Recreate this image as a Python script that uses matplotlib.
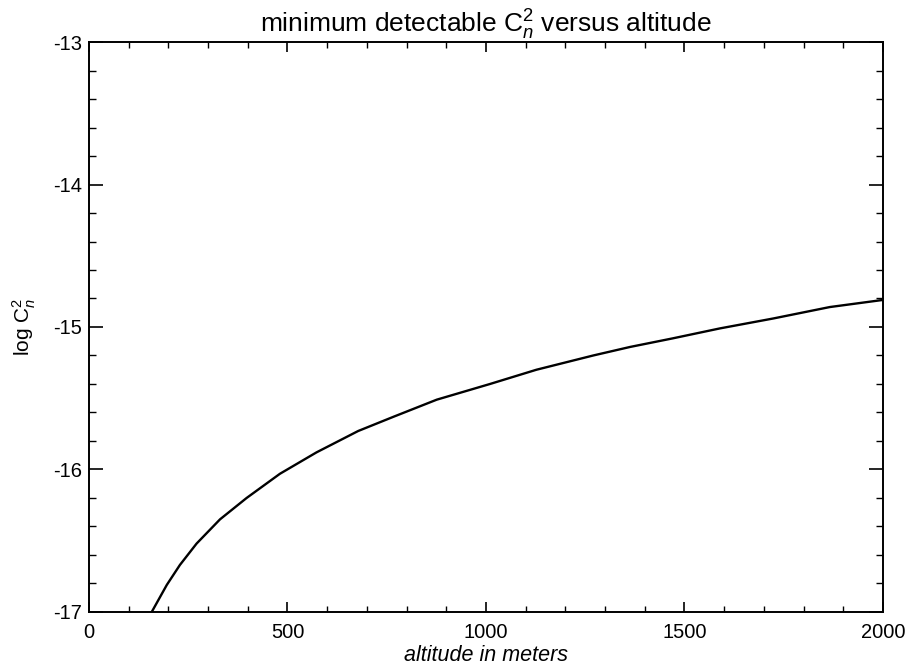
import matplotlib
matplotlib.use("Agg")
import matplotlib.pyplot as plt
from matplotlib.ticker import MultipleLocator

altitude = [158, 196, 229, 271, 330, 397, 481, 573, 678, 767, 876, 1010, 1127,
            1270, 1363, 1470, 1589, 1724, 1866, 2000]
log_cn2 = [-17.00, -16.81, -16.67, -16.52, -16.35, -16.20, -16.03, -15.88, -15.73,
           -15.63, -15.51, -15.40, -15.30, -15.20, -15.14, -15.08, -15.01, -14.94,
           -14.86, -14.81]

x_ticks = [0, 500, 1000, 1500, 2000]
y_ticks = [-17, -16, -15, -14, -13]

plt.rcParams['font.family'] = ['Liberation Sans', 'DejaVu Sans']
plt.rcParams['mathtext.fontset'] = 'custom'
plt.rcParams['mathtext.rm'] = 'Liberation Sans'
plt.rcParams['mathtext.it'] = 'Liberation Sans:italic'

fig = plt.figure(figsize=(9.09, 6.67), dpi=100)
ax = fig.add_axes([0.0979, 0.0825, 0.8735, 0.8545])

ax.plot(altitude, log_cn2, color='black', lw=1.7, solid_capstyle='butt')
ax.set_xlim(0, 2000)
ax.set_ylim(-17, -13)
ax.set_xticks(x_ticks)
ax.set_yticks(y_ticks)
ax.set_xticklabels([str(v) for v in x_ticks])
ax.set_yticklabels([str(v) for v in y_ticks])
ax.xaxis.set_minor_locator(MultipleLocator(100))
ax.yaxis.set_minor_locator(MultipleLocator(0.2))

ax.tick_params(axis='x', which='major', direction='in', length=7.2, width=1.2, top=True, labelsize=14.5, pad=8)
ax.tick_params(axis='x', which='minor', direction='in', length=4, width=1.0, top=True)
ax.tick_params(axis='y', which='major', direction='in', length=10, width=1.2, right=True, labelsize=14.5, pad=5)
ax.tick_params(axis='y', which='minor', direction='in', length=5, width=1.0, right=True)
for s in ax.spines.values():
    s.set_linewidth(1.4)

ax.set_title(r'minimum detectable C$_{\it n}^{\rm 2}$ versus altitude', fontsize=19, pad=7)
ax.set_xlabel('altitude in meters', fontsize=15.5, style='italic', labelpad=2)
ax.set_ylabel(r'log C$_{n}^{2}$', fontsize=15, labelpad=11)

fig.savefig('out.png', dpi=100)
